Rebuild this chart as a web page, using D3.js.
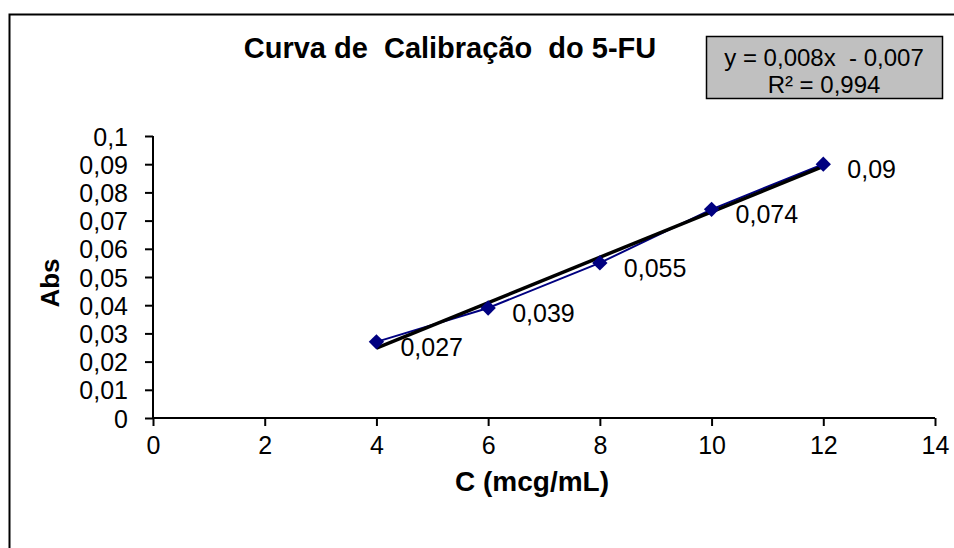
<!DOCTYPE html>
<html>
<head>
<meta charset="utf-8">
<script src="https://cdn.jsdelivr.net/npm/d3@7"></script>
<style>
  body { margin: 0; background: #fff; }
  svg text { font-family: "Liberation Sans", Arial, sans-serif; fill: #000; white-space: pre; }
</style>
</head>
<body>
<div id="chart"></div>
<script>
// data
const concentrations = [4, 6, 8, 10, 12];
const absorbances = [0.027, 0.039, 0.055, 0.074, 0.09];
const pointLabels = ['0,027', '0,039', '0,055', '0,074', '0,09'];
const xTicks = [0, 2, 4, 6, 8, 10, 12, 14];
const yTicks = [0, 0.01, 0.02, 0.03, 0.04, 0.05, 0.06, 0.07, 0.08, 0.09, 0.1];
const titleText = 'Curva de  Calibração  do 5-FU';
const equationLines = ['y = 0,008x  - 0,007', 'R² = 0,994'];

const width = 954;
const height = 548;
const labelSize = 25;

const svg = d3.select('#chart')
  .append('svg')
  .attr('width', width)
  .attr('height', height);

// outer chart border (right / bottom edges fall outside the picture)
svg.append('rect')
  .attr('x', 9.5)
  .attr('y', 14.5)
  .attr('width', 1000)
  .attr('height', 600)
  .attr('fill', 'none')
  .attr('stroke', '#000')
  .attr('stroke-width', 2);

const xScale = d3.scaleLinear().domain([0, 14]).range([153, 935]);
const yScale = d3.scaleLinear().domain([0, 0.1]).range([418, 136]);

const fmt = (d) => String(d).replace('.', ',');

// axes
const xAxis = svg.append('g')
  .attr('transform', 'translate(0,' + yScale(0) + ')')
  .call(d3.axisBottom(xScale).tickValues(xTicks).tickSize(8).tickPadding(10).tickFormat(fmt));

const yAxis = svg.append('g')
  .attr('transform', 'translate(' + xScale(0) + ',0)')
  .call(d3.axisLeft(yScale).tickValues(yTicks).tickSize(8).tickPadding(17).tickFormat(fmt));

[xAxis, yAxis].forEach((ax) => {
  ax.select('.domain').attr('stroke', '#000').attr('stroke-width', 2).attr('d',
    ax === xAxis ? 'M' + xScale(0) + ',0H' + xScale(14) : 'M0,' + yScale(0) + 'V' + yScale(0.1));
  ax.selectAll('.tick line').attr('stroke', '#000').attr('stroke-width', 2);
  ax.selectAll('.tick text')
    .style('font-family', '"Liberation Sans", Arial, sans-serif')
    .attr('font-size', labelSize)
    .attr('fill', '#000');
});
xAxis.selectAll('.tick text').attr('dy', '0.71em');
yAxis.selectAll('.tick text').attr('dy', '0.36em');

// axis titles
svg.append('text')
  .attr('x', 532)
  .attr('y', 491)
  .attr('text-anchor', 'middle')
  .attr('font-size', 28)
  .attr('font-weight', 'bold')
  .text('C (mcg/mL)');

svg.append('text')
  .attr('transform', 'translate(59,283) rotate(-90)')
  .attr('text-anchor', 'middle')
  .attr('font-size', 26)
  .attr('font-weight', 'bold')
  .text('Abs');

// title
svg.append('text')
  .attr('x', 450)
  .attr('y', 58)
  .attr('text-anchor', 'middle')
  .attr('font-size', 29)
  .attr('font-weight', 'bold')
  .text(titleText);

const points = concentrations.map((c, i) => ({x: c, y: absorbances[i], label: pointLabels[i]}));

// data series line
svg.append('path')
  .datum(points)
  .attr('fill', 'none')
  .attr('stroke', '#000080')
  .attr('stroke-width', 2)
  .attr('d', d3.line().x((d) => xScale(d.x)).y((d) => yScale(d.y)));

// linear trendline (least squares over the points)
const meanX = d3.mean(points, (d) => d.x);
const meanY = d3.mean(points, (d) => d.y);
const slope = d3.sum(points, (d) => (d.x - meanX) * (d.y - meanY)) / d3.sum(points, (d) => (d.x - meanX) ** 2);
const intercept = meanY - slope * meanX;
const xExtent = d3.extent(concentrations);

svg.append('line')
  .attr('x1', xScale(xExtent[0]))
  .attr('y1', yScale(slope * xExtent[0] + intercept))
  .attr('x2', xScale(xExtent[1]))
  .attr('y2', yScale(slope * xExtent[1] + intercept))
  .attr('stroke', '#000')
  .attr('stroke-width', 3.5);

// diamond markers
svg.append('g')
  .selectAll('path')
  .data(points)
  .enter()
  .append('path')
  .attr('transform', (d) => 'translate(' + xScale(d.x) + ',' + yScale(d.y) + ')')
  .attr('d', d3.symbol().type(d3.symbolDiamond2).size(150))
  .attr('fill', '#000080');

// data labels
svg.append('g')
  .selectAll('text')
  .data(points)
  .enter()
  .append('text')
  .attr('x', (d) => xScale(d.x) + 24)
  .attr('y', (d) => yScale(d.y) + 5)
  .attr('dy', '0.36em')
  .attr('font-size', labelSize)
  .text((d) => d.label);

// equation box
const eqBox = svg.append('g').attr('transform', 'translate(706,36)');
eqBox.append('rect')
  .attr('x', 0.5)
  .attr('y', 0.5)
  .attr('width', 236)
  .attr('height', 62)
  .attr('fill', '#c0c0c0')
  .attr('stroke', '#000')
  .attr('stroke-width', 1.5);
eqBox.selectAll('text')
  .data(equationLines)
  .enter()
  .append('text')
  .attr('x', 118)
  .attr('y', (d, i) => 30 + i * 27)
  .attr('text-anchor', 'middle')
  .attr('font-size', 24)
  .text((d) => d);
</script>
</body>
</html>
